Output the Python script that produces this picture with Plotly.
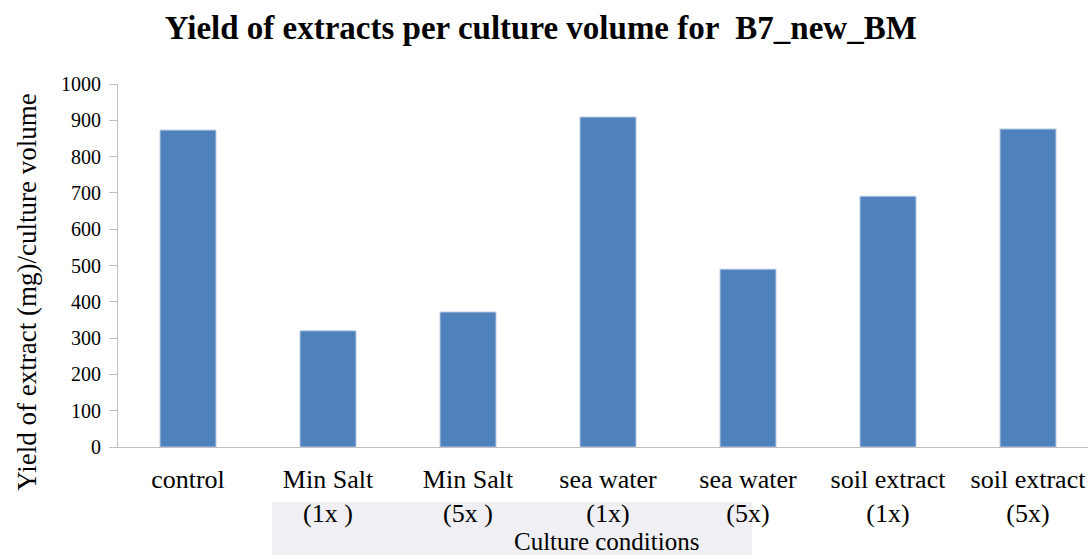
import plotly.graph_objects as go

categories = ["control", "Min Salt<br>(1x )", "Min Salt<br>(5x )", "sea water<br>(1x)",
              "sea water<br>(5x)", "soil extract<br>(1x)", "soil extract<br>(5x)"]
yields = [873, 320, 372, 909, 490, 691, 876]
y_ticks = [0, 100, 200, 300, 400, 500, 600, 700, 800, 900, 1000]

serif = "Times New Roman"

fig = go.Figure(go.Bar(
    x=categories, y=yields, width=0.4,
    marker=dict(color="#4F81BD", line=dict(color="#b9cde6", width=1)),
))

fig.update_layout(
    width=1088, height=555,
    margin=dict(l=118, r=0, t=84, b=108),
    paper_bgcolor="white", plot_bgcolor="white",
    showlegend=False,
    title=dict(text="<b>Yield of extracts per culture volume for  B7_new_BM</b>",
               x=0.497, xanchor="center", y=0.95, yanchor="middle",
               font=dict(family=serif, size=33, color="black")),
    font=dict(family=serif, color="black"),
    shapes=[dict(type="rect", xref="paper", yref="paper", x0=0.1588, x1=0.6536,
                 y0=-0.1515, y1=-0.30, fillcolor="#efeff4", line=dict(width=0), layer="below")],
    annotations=[
        dict(text="Yield of extract (mg)/culture volume", xref="paper", yref="paper",
             x=-0.0938, y=0.425, textangle=-90, showarrow=False,
             xanchor="center", yanchor="middle", font=dict(family=serif, size=27, color="black")),
        dict(text="Culture conditions", xref="paper", yref="paper",
             x=0.504, y=-0.26, showarrow=False, xanchor="center", yanchor="middle",
             font=dict(family=serif, size=25, color="black")),
    ],
)

fig.update_xaxes(
    range=[-0.5, -0.5 + 970 / 140], showline=True, linecolor="#c0c0c0", linewidth=1,
    ticks="", tickfont=dict(family=serif, size=26, color="black"), showgrid=False,
    ticklabelstandoff=9, fixedrange=True,
)
fig.update_yaxes(
    range=[0, 1000], tickvals=y_ticks, showline=True, linecolor="#c0c0c0", linewidth=1,
    ticks="outside", ticklen=8, tickcolor="#c0c0c0", showgrid=False, zeroline=False,
    tickfont=dict(family=serif, size=20, color="black"), ticklabelstandoff=4,
    fixedrange=True,
)

fig.write_html("out.html")
